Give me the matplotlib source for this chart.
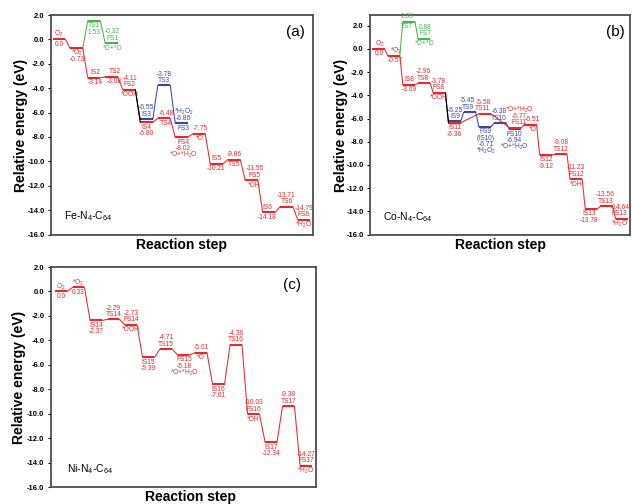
import matplotlib
matplotlib.use('Agg')
import matplotlib.pyplot as plt

plt.rcParams['font.family'] = ['Liberation Sans', 'DejaVu Sans']
plt.rcParams['mathtext.default'] = 'regular'

RED = '#e8282e'
GREEN = '#45b649'
BLUE = '#3947a6'

# ---- data: (a) Fe-N4-C64
fe_red_names = ['O2', '*O2', 'IS2', 'TS2', 'FS2', 'IS4', 'TS4', 'FS4', '*O', 'IS5', 'TS5', 'FS5', 'IS6', 'TS6', 'FS6']
fe_red_steps = [0, 1, 2, 3, 4, 5, 6, 7, 8, 9, 10, 11, 12, 13, 14]
fe_red_E = [0.0, -0.73, -3.14, -3.08, -4.11, -6.80, -6.48, -8.02, -7.75, -10.21, -9.86, -11.55, -14.18, -13.71, -14.79]
fe_green_steps = [1, 2, 3]
fe_green_E = [-0.73, 1.53, -0.32]
fe_blue_steps = [4, 5, 6, 7]
fe_blue_E = [-4.11, -6.55, -3.78, -6.86]

# ---- data: (b) Co-N4-C64
co_red_names = ['O2', '*O2', 'IS8', 'TS8', 'FS8', 'IS11', 'TS11', 'FS11', '*O', 'IS12', 'TS12', 'FS12', 'IS13', 'TS13', 'FS13']
co_red_steps = [0, 1, 2, 3, 4, 5, 7, 9, 10, 11, 12, 13, 14, 15, 16]
co_red_E = [0.0, -0.57, -3.09, -2.96, -3.78, -6.36, -5.58, -6.77, -6.51, -9.12, -9.08, -11.23, -13.78, -13.56, -14.64]
co_green_steps = [1, 2, 3]
co_green_E = [-0.57, 2.36, 0.88]
co_blue_steps = [4, 5, 6, 7, 8, 9]
co_blue_E = [-3.78, -6.25, -5.45, -6.71, -6.38, -6.94]

# ---- data: (c) Ni-N4-C64
ni_red_names = ['O2', '*O2', 'IS14', 'TS14', 'FS14', 'IS15', 'TS15', 'FS15', '*O', 'IS16', 'TS16', 'FS16', 'IS17', 'TS17', 'FS17']
ni_red_steps = [0, 1, 2, 3, 4, 5, 6, 7, 8, 9, 10, 11, 12, 13, 14]
ni_red_E = [0.0, 0.33, -2.37, -2.29, -2.73, -5.39, -4.71, -5.18, -5.01, -7.61, -4.36, -10.03, -12.34, -9.38, -14.27]

yticks = [2, 0, -2, -4, -6, -8, -10, -12, -14, -16]

# label texts: (index in path, lines above, lines below, dx in px)
fe_red_labels = [
    (0, ['O$_2$'], ['0.0'], 0), (1, [], ['*O$_2$', '-0.73'], 1),
    (2, ['IS2'], ['-3.14'], 1), (3, ['TS2'], ['-3.08'], 3),
    (4, ['-4.11', 'FS2'], ['*OOH'], 1), (5, [], ['IS4', '-6.80'], 0),
    (6, ['-6.48'], ['TS4'], 2), (7, [], ['FS4', '-8.02', '*O+*H$_2$O'], 2),
    (8, ['-7.75'], ['*O'], 1), (9, ['IS5'], ['-10.21'], 0),
    (10, ['-9.86'], ['TS5'], 0), (11, ['-11.55', 'FS5'], ['*OH'], 3),
    (12, ['IS6'], ['-14.18'], -2), (13, ['-13.71', 'TS6'], [], 0),
    (14, ['-14.79', 'FS6'], ['*H$_2$O'], 0)]
fe_green_labels = [(1, [], ['TS1', '1.53'], 0), (2, ['-0.32', 'FS1'], ['*O+*O'], 1)]
fe_blue_labels = [(1, ['-6.55', 'IS3'], [], 0), (2, ['-3.78', 'TS3'], [], 0),
                  (3, ['*H$_2$O$_2$', '-6.86'], ['FS3'], 2)]

co_red_labels = [
    (0, ['O$_2$'], ['0.0'], 1), (1, ['*O$_2$'], ['-0.57'], 2),
    (2, ['IS8'], ['-3.09'], 0), (3, ['-2.96', 'TS8'], [], -1),
    (4, ['-3.78', 'FS8'], ['*OOH'], -1), (5, [], ['IS11', '-6.36'], 0),
    (6, ['-5.58', 'TS11'], [], -2), (7, ['*O+*H$_2$O', '-6.77', 'FS11'], [], 4),
    (8, ['-6.51'], ['*O'], 2), (9, [], ['IS12', '-9.12'], 0),
    (10, ['-9.08', 'TS12'], [], 0), (11, ['-11.23', 'FS12'], ['*OH'], 0),
    (12, [], ['IS13', '-13.78'], -2), (13, ['-13.56', 'TS13'], [], -1),
    (14, ['-14.64', 'FS13'], ['*H$_2$O'], -2)]
co_green_labels = [(1, ['2.36'], ['TS7'], -2), (2, ['0.88', 'FS7'], ['*O+*O'], 1)]
co_blue_labels = [(1, ['-6.25', 'IS9'], [], 1), (2, ['-5.45', 'TS9'], [], -2),
                  (3, [], ['FS9', '(IS10)', '-6.71', '*H$_2$O$_2$'], 1),
                  (4, ['-6.38', 'TS10'], [], -1),
                  (5, [], ['FS10', '-6.94', '*O+*H$_2$O'], -1)]

ni_red_labels = [
    (0, ['O$_2$'], ['0.0'], 0), (1, ['*O$_2$'], ['0.33'], 0),
    (2, [], ['IS14', '-2.37'], 0), (3, ['-2.29', 'TS14'], [], 0),
    (4, ['-2.73', 'FS14'], ['*OOH'], 0), (5, [], ['IS15', '-5.39'], 0),
    (6, ['-4.71', 'TS15'], [], 0), (7, [], ['FS15', '-5.18', '*O+*H$_2$O'], 1),
    (8, ['-5.01'], ['*O'], 0), (9, [], ['IS16', '-7.61'], 0),
    (10, ['-4.36', 'TS16'], [], 0), (11, ['-10.03', 'FS16'], ['*OH'], 0),
    (12, [], ['IS17', '-12.34'], 0), (13, ['-9.38', 'TS17'], [], 0),
    (14, ['-14.27', 'FS17'], ['*H$_2$O'], 0)]


def draw_path(ax, steps, E, color, hw, skip_first=False, first_conn='same'):
    for i, (s, e) in enumerate(zip(steps, E)):
        if skip_first and i == 0:
            continue
        ax.plot([s - hw, s + hw], [e, e], color=color, lw=1.5, solid_capstyle='butt')
    for i in range(len(steps) - 1):
        c = color
        if i == 0 and first_conn != 'same':
            c = first_conn
        ax.plot([steps[i] + hw, steps[i + 1] - hw], [E[i], E[i + 1]], color=c, lw=0.75)


def put_labels(ax, steps, E, labels, color):
    for i, above, below, dx in labels:
        s, e = steps[i], E[i]
        for k, t in enumerate(reversed(above)):
            ax.annotate(t, (s, e), xytext=(dx, 5 + 6.4 * k), textcoords='offset pixels',
                        ha='center', va='center', fontsize=4.8, color=color)
        for k, t in enumerate(below):
            ax.annotate(t, (s, e), xytext=(dx, -(5 + 6.4 * k)), textcoords='offset pixels',
                        ha='center', va='center', fontsize=4.8, color=color)


def style(ax, ylim, xlim):
    ax.set_ylim(*ylim)
    ax.set_xlim(*xlim)
    ax.set_xticks([])
    ax.set_yticks(yticks)
    ax.set_yticklabels([f'{v:.1f}' for v in yticks], fontsize=5.5, fontweight='bold')
    ax.tick_params(axis='y', direction='out', length=2.5, width=0.8, pad=2)
    for sp in ax.spines.values():
        sp.set_color('#4d4d4d')
        sp.set_linewidth(1.3)


W, H = 632, 504
fig = plt.figure(figsize=(6.32, 5.04), dpi=100)


def px_axes(left, right, top, bottom):
    return fig.add_axes([left / W, 1 - bottom / H, (right - left) / W, (bottom - top) / H])


# (a)
axa = px_axes(51, 313, 15, 234.5)
style(axa, (-16, 2), (-0.457, 14.514))
draw_path(axa, fe_green_steps, fe_green_E, GREEN, 0.36, skip_first=True)
draw_path(axa, fe_blue_steps, fe_blue_E, BLUE, 0.36, skip_first=True, first_conn='black')
draw_path(axa, fe_red_steps[:5], fe_red_E[:5], RED, 0.36)
draw_path(axa, fe_red_steps[4:], fe_red_E[4:], RED, 0.36, skip_first=True, first_conn='black')
put_labels(axa, fe_red_steps, fe_red_E, fe_red_labels, RED)
put_labels(axa, fe_green_steps, fe_green_E, fe_green_labels, GREEN)
put_labels(axa, fe_blue_steps, fe_blue_E, fe_blue_labels, BLUE)

# (b)
axb = px_axes(370, 630, 15, 234.6)
style(axb, (-16, 2.93), (-0.56, 16.545))
draw_path(axb, co_green_steps, co_green_E, GREEN, 0.4, skip_first=True)
draw_path(axb, co_blue_steps, co_blue_E, BLUE, 0.4, skip_first=True, first_conn='black')
draw_path(axb, co_red_steps[:5], co_red_E[:5], RED, 0.4)
draw_path(axb, co_red_steps[4:], co_red_E[4:], RED, 0.4, skip_first=True, first_conn='black')
put_labels(axb, co_red_steps, co_red_E, co_red_labels, RED)
put_labels(axb, co_green_steps, co_green_E, co_green_labels, GREEN)
put_labels(axb, co_blue_steps, co_blue_E, co_blue_labels, BLUE)

# (c)
axc = px_axes(50.7, 316, 267, 487)
style(axc, (-16, 2), (-0.59, 14.57))
draw_path(axc, ni_red_steps, ni_red_E, RED, 0.34)
put_labels(axc, ni_red_steps, ni_red_E, ni_red_labels, RED)

# figure texts
lab_kw = dict(fontsize=10, fontweight='bold', ha='center', va='center')
fig.text(21 / W, 1 - 125 / H, 'Relative energy (eV)', rotation=90, **lab_kw)
fig.text(341 / W, 1 - 125 / H, 'Relative energy (eV)', rotation=90, **lab_kw)
fig.text(19 / W, 1 - 377 / H, 'Relative energy (eV)', rotation=90, **lab_kw)
fig.text(181 / W, 1 - 245 / H, 'Reaction step', **lab_kw)
fig.text(500 / W, 1 - 245 / H, 'Reaction step', **lab_kw)
fig.text(190 / W, 1 - 497 / H, 'Reaction step', **lab_kw)

tag_kw = dict(fontsize=11, ha='center', va='center')
fig.text(295 / W, 1 - 31.7 / H, '(a)', **tag_kw)
fig.text(615 / W, 1 - 31.7 / H, '(b)', **tag_kw)
fig.text(292 / W, 1 - 285 / H, '(c)', **tag_kw)

cat_kw = dict(fontsize=7.5, ha='left', va='center')
fig.text(64 / W, 1 - 216 / H, 'Fe-N$_4$-C$_{64}$', **cat_kw)
fig.text(383 / W, 1 - 217 / H, 'Co-N$_4$-C$_{64}$', **cat_kw)
fig.text(66.7 / W, 1 - 469 / H, 'Ni-N$_4$-C$_{64}$', **cat_kw)

fig.savefig('out.png', dpi=100)
